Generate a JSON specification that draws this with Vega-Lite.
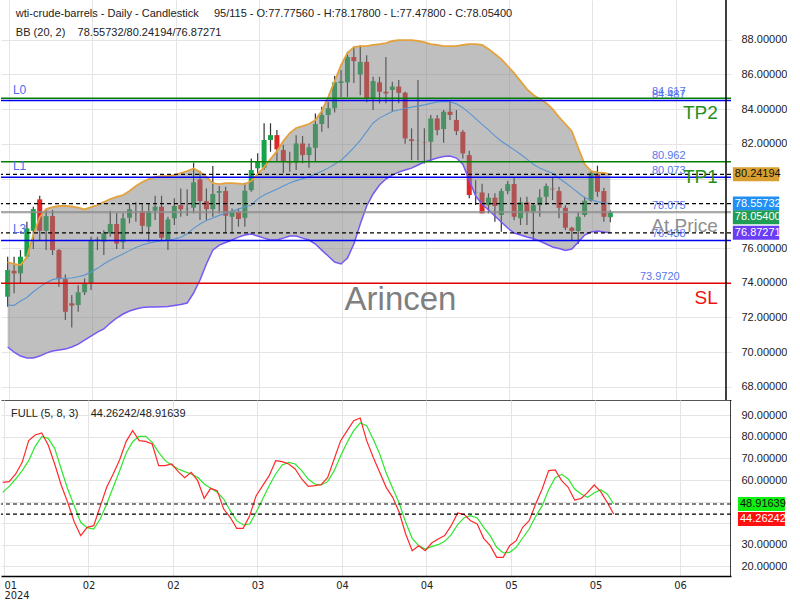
{
"$schema":"https://vega.github.io/schema/vega-lite/v6.json",
"padding":0,"spacing":0,"background":"#ffffff",
"config":{"view":{"stroke":null},"font":"Liberation Sans","axis":{"labelFont":"Liberation Sans","labelFontSize":11,"labelColor":"#222222","gridColor":"#e4e4e4","tickSize":0,"ticks":false}},
"datasets":{
"c":[
{"n":1,"o":73.19,"h":75.5,"l":72.62,"c":74.73,"u":75.19,"m":72.72,"b":70.30,"k":58.95,"d":54.32},
{"n":2,"o":74.69,"h":75.5,"l":73.39,"c":74.54,"u":75.08,"m":72.70,"b":70.01,"k":59.26,"d":57.10},
{"n":3,"o":74.54,"h":75.88,"l":73.97,"c":75.5,"u":75.02,"m":72.95,"b":69.78,"k":62.81,"d":60.49},
{"n":4,"o":75.5,"h":77.51,"l":75.4,"c":77.13,"u":75.48,"m":73.15,"b":69.67,"k":68.21,"d":64.35},
{"n":5,"o":76.99,"h":78.38,"l":75.95,"c":78.24,"u":76.75,"m":73.48,"b":69.67,"k":78.24,"d":68.98},
{"n":6,"o":78.8,"h":79.01,"l":76.46,"c":76.99,"u":77.78,"m":73.75,"b":69.78,"k":80.86,"d":75.62},
{"n":7,"o":76.99,"h":78.19,"l":75.88,"c":77.84,"u":78.24,"m":74.0,"b":69.95,"k":81.79,"d":80.09},
{"n":8,"o":77.84,"h":78.19,"l":75.6,"c":75.88,"u":78.36,"m":74.18,"b":70.07,"k":76.23,"d":79.32},
{"n":9,"o":75.88,"h":75.95,"l":73.77,"c":74.21,"u":78.42,"m":74.25,"b":70.13,"k":67.44,"d":74.69},
{"n":10,"o":74.21,"h":74.48,"l":71.85,"c":72.33,"u":78.42,"m":74.26,"b":70.18,"k":57.72,"d":65.12},
{"n":11,"o":72.82,"h":73.29,"l":71.43,"c":72.68,"u":78.39,"m":74.27,"b":70.30,"k":49.69,"d":55.86},
{"n":12,"o":72.72,"h":73.86,"l":72.33,"c":73.45,"u":78.33,"m":74.35,"b":70.47,"k":40.74,"d":48.15},
{"n":13,"o":73.45,"h":74.25,"l":73.29,"c":73.93,"u":78.22,"m":74.44,"b":70.70,"k":34.26,"d":40.43},
{"n":14,"o":73.97,"h":76.65,"l":73.58,"c":76.4,"u":78.36,"m":74.62,"b":70.93,"k":38.12,"d":37.96},
{"n":15,"o":76.4,"h":76.65,"l":75.88,"c":76.5,"u":78.47,"m":74.83,"b":71.16,"k":38.89,"d":37.34},
{"n":16,"o":76.36,"h":77.03,"l":75.6,"c":76.85,"u":78.65,"m":75.08,"b":71.34,"k":47.84,"d":41.97},
{"n":17,"o":76.85,"h":78.15,"l":76.65,"c":77.38,"u":78.82,"m":75.30,"b":71.68,"k":56.63,"d":48.92},
{"n":18,"o":77.38,"h":78.0,"l":75.95,"c":76.26,"u":78.94,"m":75.48,"b":71.97,"k":62.81,"d":56.63},
{"n":19,"o":76.33,"h":78.0,"l":75.95,"c":77.71,"u":79.05,"m":75.65,"b":72.20,"k":69.44,"d":64.35},
{"n":20,"o":77.74,"h":78.57,"l":77.42,"c":78.23,"u":79.28,"m":75.85,"b":72.37,"k":77.93,"d":72.53},
{"n":21,"o":78.12,"h":78.63,"l":77.51,"c":78.10,"u":79.57,"m":76.03,"b":72.49,"k":82.87,"d":77.78},
{"n":22,"o":78.12,"h":78.57,"l":76.85,"c":77.28,"u":79.80,"m":76.17,"b":72.57,"k":78.24,"d":80.25},
{"n":23,"o":77.23,"h":78.57,"l":76.36,"c":78.12,"u":79.97,"m":76.28,"b":72.60,"k":77.93,"d":80.25},
{"n":24,"o":78.15,"h":79.01,"l":77.61,"c":78.38,"u":80.09,"m":76.37,"b":72.60,"k":76.70,"d":77.47},
{"n":25,"o":78.38,"h":79.01,"l":76.46,"c":76.59,"u":80.14,"m":76.41,"b":72.62,"k":66.67,"d":72.84},
{"n":26,"o":76.46,"h":77.8,"l":75.88,"c":77.65,"u":80.14,"m":76.44,"b":72.63,"k":66.67,"d":68.98},
{"n":27,"o":77.71,"h":78.86,"l":77.32,"c":78.42,"u":80.20,"m":76.52,"b":72.69,"k":67.44,"d":66.97},
{"n":28,"o":78.47,"h":79.43,"l":77.8,"c":78.23,"u":80.32,"m":76.62,"b":72.75,"k":63.89,"d":65.12},
{"n":29,"o":78.24,"h":79.38,"l":77.84,"c":78.26,"u":80.43,"m":76.82,"b":72.83,"k":61.11,"d":63.89},
{"n":30,"o":78.32,"h":80.91,"l":78.0,"c":79.78,"u":80.58,"m":77.13,"b":73.41,"k":63.58,"d":62.81},
{"n":31,"o":79.95,"h":80.45,"l":77.61,"c":78.7,"u":80.37,"m":77.38,"b":74.16,"k":59.72,"d":61.26},
{"n":32,"o":78.7,"h":79.43,"l":77.61,"c":78.24,"u":80.09,"m":77.58,"b":75.08,"k":51.54,"d":58.18},
{"n":33,"o":78.24,"h":80.72,"l":77.8,"c":79.11,"u":79.74,"m":77.73,"b":75.88,"k":56.17,"d":56.17},
{"n":34,"o":79.18,"h":79.57,"l":78.0,"c":79.28,"u":79.68,"m":77.88,"b":76.17,"k":55.09,"d":54.32},
{"n":35,"o":79.28,"h":79.53,"l":76.88,"c":77.86,"u":79.74,"m":78.0,"b":76.32,"k":46.60,"d":51.23},
{"n":36,"o":77.8,"h":78.28,"l":76.88,"c":78.09,"u":79.74,"m":78.12,"b":76.46,"k":42.75,"d":45.83},
{"n":37,"o":78.09,"h":78.28,"l":77.23,"c":77.67,"u":79.71,"m":78.24,"b":76.63,"k":37.65,"d":41.20},
{"n":38,"o":77.74,"h":79.76,"l":77.23,"c":79.3,"u":79.68,"m":78.38,"b":76.75,"k":37.65,"d":39.20},
{"n":39,"o":79.33,"h":81.16,"l":79.24,"c":80.49,"u":79.86,"m":78.46,"b":76.80,"k":43.52,"d":39.66},
{"n":40,"o":80.59,"h":81.45,"l":80.2,"c":80.97,"u":80.26,"m":78.83,"b":76.69,"k":52.78,"d":45.06},
{"n":41,"o":80.62,"h":83.18,"l":80.5,"c":82.22,"u":80.66,"m":79.05,"b":76.57,"k":57.41,"d":51.23},
{"n":42,"o":82.22,"h":83.18,"l":81.54,"c":82.5,"u":81.12,"m":79.22,"b":76.46,"k":62.04,"d":57.41},
{"n":43,"o":82.5,"h":82.79,"l":80.97,"c":81.68,"u":81.58,"m":79.39,"b":76.46,"k":68.98,"d":62.81},
{"n":44,"o":81.64,"h":81.93,"l":80.3,"c":80.97,"u":82.16,"m":79.57,"b":76.57,"k":68.52,"d":66.97},
{"n":45,"o":80.91,"h":81.54,"l":80.39,"c":80.88,"u":82.62,"m":79.75,"b":76.69,"k":67.44,"d":68.21},
{"n":46,"o":80.91,"h":82.5,"l":80.49,"c":82.02,"u":82.91,"m":79.88,"b":76.69,"k":65.12,"d":67.44},
{"n":47,"o":82.02,"h":82.45,"l":80.88,"c":81.35,"u":83.02,"m":79.98,"b":76.57,"k":60.49,"d":64.35},
{"n":48,"o":81.35,"h":82.02,"l":80.62,"c":81.8,"u":83.14,"m":80.10,"b":76.46,"k":57.10,"d":60.49},
{"n":49,"o":81.77,"h":83.75,"l":80.97,"c":83.14,"u":83.37,"m":80.26,"b":76.23,"k":57.41,"d":58.18},
{"n":50,"o":83.14,"h":84.13,"l":82.69,"c":83.66,"u":83.89,"m":80.42,"b":75.88,"k":57.87,"d":57.72},
{"n":51,"o":83.66,"h":84.4,"l":82.9,"c":84.05,"u":84.69,"m":80.60,"b":75.54,"k":61.26,"d":59.26},
{"n":52,"o":84.05,"h":85.9,"l":83.8,"c":85.54,"u":85.61,"m":80.82,"b":75.19,"k":69.75,"d":64.35},
{"n":53,"o":85.5,"h":86.25,"l":84.7,"c":85.6,"u":86.53,"m":81.05,"b":75.08,"k":78.24,"d":71.30},
{"n":54,"o":85.54,"h":87.3,"l":84.7,"c":87.0,"u":87.23,"m":81.40,"b":75.42,"k":82.87,"d":77.47},
{"n":55,"o":87.0,"h":87.6,"l":85.5,"c":86.76,"u":87.57,"m":81.78,"b":76.23,"k":87.50,"d":82.87},
{"n":56,"o":85.99,"h":87.68,"l":84.8,"c":86.72,"u":87.63,"m":82.20,"b":77.38,"k":88.73,"d":86.42},
{"n":57,"o":86.72,"h":87.1,"l":84.4,"c":84.62,"u":87.63,"m":82.70,"b":78.42,"k":78.24,"d":85.18},
{"n":58,"o":84.62,"h":85.86,"l":83.94,"c":85.61,"u":87.69,"m":83.20,"b":79.11,"k":70.52,"d":79.01},
{"n":59,"o":85.54,"h":85.86,"l":84.33,"c":85.0,"u":87.74,"m":83.48,"b":79.63,"k":63.58,"d":72.07},
{"n":60,"o":85.0,"h":87.0,"l":84.33,"c":84.9,"u":87.80,"m":83.68,"b":79.97,"k":56.63,"d":63.27},
{"n":61,"o":85.1,"h":85.57,"l":83.85,"c":85.3,"u":87.92,"m":83.86,"b":80.20,"k":52.01,"d":56.17},
{"n":62,"o":85.3,"h":85.67,"l":84.33,"c":84.94,"u":87.97,"m":83.95,"b":80.37,"k":45.06,"d":49.38},
{"n":63,"o":84.94,"h":85.0,"l":82.0,"c":82.31,"u":87.97,"m":84.03,"b":80.49,"k":35.03,"d":40.43},
{"n":64,"o":82.26,"h":82.89,"l":81.06,"c":82.16,"u":87.97,"m":84.11,"b":80.60,"k":27.31,"d":33.02},
{"n":65,"o":82.16,"h":85.67,"l":81.06,"c":82.18,"u":87.92,"m":84.17,"b":80.78,"k":29.63,"d":29.63},
{"n":66,"o":82.1,"h":82.89,"l":80.87,"c":82.08,"u":87.86,"m":84.24,"b":80.95,"k":27.31,"d":28.09},
{"n":67,"o":82.12,"h":83.66,"l":80.97,"c":83.46,"u":87.74,"m":84.33,"b":81.07,"k":30.86,"d":29.17},
{"n":68,"o":83.46,"h":83.66,"l":82.5,"c":82.79,"u":87.69,"m":84.41,"b":81.18,"k":32.72,"d":30.09},
{"n":69,"o":82.85,"h":83.94,"l":82.06,"c":83.85,"u":87.63,"m":84.43,"b":81.27,"k":34.26,"d":31.63},
{"n":70,"o":83.85,"h":84.48,"l":83.37,"c":83.66,"u":87.63,"m":84.42,"b":81.30,"k":38.89,"d":34.72},
{"n":71,"o":83.37,"h":83.94,"l":82.5,"c":82.73,"u":87.63,"m":84.30,"b":81.18,"k":44.75,"d":39.35},
{"n":72,"o":82.69,"h":82.79,"l":81.16,"c":81.45,"u":87.69,"m":84.08,"b":80.83,"k":43.98,"d":42.59},
{"n":73,"o":81.35,"h":81.6,"l":78.86,"c":79.05,"u":87.74,"m":83.78,"b":79.91,"k":41.20,"d":43.52},
{"n":74,"o":79.18,"h":79.9,"l":78.47,"c":79.2,"u":87.74,"m":83.45,"b":78.99,"k":39.66,"d":42.44},
{"n":75,"o":79.2,"h":79.7,"l":78.0,"c":78.0,"u":87.69,"m":83.12,"b":78.53,"k":33.02,"d":38.12},
{"n":76,"o":78.47,"h":79.15,"l":78.0,"c":78.9,"u":87.46,"m":82.80,"b":78.19,"k":29.63,"d":34.26},
{"n":77,"o":78.9,"h":79.15,"l":77.51,"c":78.42,"u":87.17,"m":82.46,"b":77.84,"k":24.23,"d":28.86},
{"n":78,"o":77.9,"h":79.43,"l":76.94,"c":79.28,"u":86.88,"m":82.15,"b":77.50,"k":24.23,"d":26.23},
{"n":79,"o":79.28,"h":79.86,"l":79.1,"c":79.68,"u":86.48,"m":81.90,"b":77.15,"k":29.63,"d":26.54},
{"n":80,"o":79.68,"h":80.05,"l":77.6,"c":77.8,"u":86.07,"m":81.65,"b":76.86,"k":31.94,"d":28.86},
{"n":81,"o":77.71,"h":78.92,"l":77.32,"c":78.63,"u":85.61,"m":81.40,"b":76.75,"k":38.12,"d":33.18},
{"n":82,"o":78.63,"h":78.95,"l":77.32,"c":78.09,"u":85.15,"m":81.12,"b":76.63,"k":41.20,"d":37.34},
{"n":83,"o":78.09,"h":78.53,"l":76.46,"c":78.47,"u":84.81,"m":80.82,"b":76.55,"k":48.92,"d":43.21},
{"n":84,"o":78.47,"h":79.38,"l":77.8,"c":78.92,"u":84.58,"m":80.60,"b":76.40,"k":55.86,"d":48.15},
{"n":85,"o":78.95,"h":79.72,"l":78.47,"c":79.57,"u":84.35,"m":80.45,"b":76.23,"k":64.35,"d":55.55},
{"n":86,"o":79.42,"h":80.1,"l":78.76,"c":79.38,"u":84.00,"m":80.30,"b":76.06,"k":64.66,"d":61.11},
{"n":87,"o":79.28,"h":79.53,"l":77.71,"c":78.32,"u":83.54,"m":80.02,"b":75.97,"k":59.72,"d":62.65},
{"n":88,"o":78.32,"h":78.47,"l":77.03,"c":77.17,"u":83.14,"m":79.76,"b":75.86,"k":56.63,"d":60.49},
{"n":89,"o":77.17,"h":77.23,"l":76.46,"c":76.98,"u":82.73,"m":79.48,"b":75.94,"k":50.77,"d":55.86},
{"n":90,"o":76.98,"h":78.03,"l":76.23,"c":77.8,"u":81.76,"m":79.18,"b":76.34,"k":51.54,"d":53.55},
{"n":91,"o":77.9,"h":78.95,"l":77.8,"c":78.72,"u":80.83,"m":78.90,"b":76.75,"k":54.32,"d":52.01},
{"n":92,"o":78.72,"h":80.45,"l":78.66,"c":80.33,"u":80.43,"m":78.76,"b":76.92,"k":57.72,"d":54.01},
{"n":93,"o":80.24,"h":80.74,"l":78.95,"c":79.24,"u":80.35,"m":78.67,"b":76.98,"k":54.63,"d":55.55},
{"n":94,"o":79.28,"h":79.47,"l":77.51,"c":77.8,"u":80.32,"m":78.60,"b":76.92,"k":49.69,"d":53.55},
{"n":95,"o":77.7756,"h":78.178,"l":77.478,"c":78.054,"u":80.24194,"m":78.55732,"b":76.87271,"k":44.26242,"d":48.91639}
],
"levels":[
{"name":"TP2","kind":"tp","price":84.617,"label":"84.617"},
{"name":"L0","kind":"lv","price":84.487,"label":"84.487"},
{"name":"TP1","kind":"tp","price":80.962,"label":"80.962"},
{"name":"L1","kind":"lv","price":80.073,"label":"80.073"},
{"name":"At Price","kind":"at","price":78.075,"label":"78.075"},
{"name":"L3","kind":"lv","price":76.438,"label":"76.438"},
{"name":"SL","kind":"sl","price":73.972,"label":"73.9720"}
],
"tags":[
{"name":"upper","value":80.24194,"label":"80.24194"},
{"name":"mid","value":78.55732,"label":"78.55732"},
{"name":"close","value":78.054,"label":"78.05400"},
{"name":"lower","value":76.87271,"label":"76.87271"}
],
"stags":[
{"name":"d","value":48.91639,"label":"48.91639"},
{"name":"k","value":44.26242,"label":"44.26242"}
],
"edge":[{"n":113.05}]
},
"vconcat":[
{"width":730,"height":400,
"layer":[
{"data":{"name":"c"},"mark":{"type":"rule","color":"#333333","strokeWidth":1.2,"clip":true},
"encoding":{
"x":{"field":"n","type":"quantitative","title":null,"scale":{"domain":[0.74,113.05],"nice":false,"zero":false},"axis":{"values":[1.2,14.2,27.2,40.2,53.2,66.2,79.2,92.2,105.2],"tickCount":30,"labels":false,"ticks":false,"domain":true,"domainColor":"#555555","grid":true,"gridColor":"#e4e4e4"}},
"y":{"field":"l","type":"quantitative","title":null,"scale":{"domain":[67.25,90.28],"nice":false,"zero":false},"axis":{"orient":"right","values":[68,70,72,74,76,78,80,82,84,86,88],"tickCount":40,"labelExpr":"(datum.value==78||datum.value==80)?'':format(datum.value,'.5f')","labelOverlap":false,"grid":true,"gridColor":"#e4e4e4","ticks":false,"tickSize":0,"domain":false,"labelPadding":10}},
"y2":{"field":"h"}}},
{"data":{"name":"c"},"mark":{"type":"bar","size":5,"clip":true},
"encoding":{
"x":{"field":"n","type":"quantitative","title":null,"scale":{"domain":[0.74,113.05],"nice":false,"zero":false}},
"y":{"field":"o","type":"quantitative","title":null,"scale":{"domain":[67.25,90.28],"nice":false,"zero":false}},
"y2":{"field":"c"},
"color":{"condition":{"test":"datum.c >= datum.o","value":"#18a34a"},"value":"#e02626"}}},
{"data":{"name":"c"},"mark":{"type":"area","color":"#808080","opacity":0.5,"clip":true},
"encoding":{
"x":{"field":"n","type":"quantitative","title":null,"scale":{"domain":[0.74,113.05],"nice":false,"zero":false}},
"y":{"field":"u","type":"quantitative","title":null,"scale":{"domain":[67.25,90.28],"nice":false,"zero":false}},
"y2":{"field":"b"}}},
{"data":{"name":"c"},"mark":{"type":"line","color":"#e3a23e","strokeWidth":1.8,"clip":true},
"encoding":{
"x":{"field":"n","type":"quantitative","title":null,"scale":{"domain":[0.74,113.05],"nice":false,"zero":false}},
"y":{"field":"u","type":"quantitative","title":null,"scale":{"domain":[67.25,90.28],"nice":false,"zero":false}}}},
{"data":{"name":"c"},"mark":{"type":"line","color":"#5b95d0","strokeWidth":1.1,"clip":true},
"encoding":{
"x":{"field":"n","type":"quantitative","title":null,"scale":{"domain":[0.74,113.05],"nice":false,"zero":false}},
"y":{"field":"m","type":"quantitative","title":null,"scale":{"domain":[67.25,90.28],"nice":false,"zero":false}}}},
{"data":{"name":"c"},"mark":{"type":"line","color":"#7857f5","strokeWidth":1.5,"clip":true},
"encoding":{
"x":{"field":"n","type":"quantitative","title":null,"scale":{"domain":[0.74,113.05],"nice":false,"zero":false}},
"y":{"field":"b","type":"quantitative","title":null,"scale":{"domain":[67.25,90.28],"nice":false,"zero":false}}}},
{"data":{"name":"levels"},"mark":{"type":"rule","strokeWidth":1.5},
"encoding":{
"y":{"field":"price","type":"quantitative","title":null,"scale":{"domain":[67.25,90.28],"nice":false,"zero":false}},
"color":{"field":"kind","type":"nominal","legend":null,"scale":{"domain":["tp","lv","sl","at"],"range":["#008000","#0000ee","#e00000","#8c8c8c"]}}}},
{"data":{"name":"tags"},"transform":[{"filter":"datum.name != 'close'"}],"mark":{"type":"rule","color":"#000000","strokeWidth":1.2,"strokeDash":[4,3]},
"encoding":{
"y":{"field":"value","type":"quantitative","title":null,"scale":{"domain":[67.25,90.28],"nice":false,"zero":false}}}},
{"data":{"name":"edge"},"mark":{"type":"rule","color":"#000000","strokeWidth":1.5,"clip":true},
"encoding":{
"x":{"field":"n","type":"quantitative","title":null,"scale":{"domain":[0.74,113.05],"nice":false,"zero":false}}}},
{"data":{"name":"levels"},"transform":[{"filter":"datum.kind == 'lv'"}],"mark":{"type":"text","align":"left","baseline":"alphabetic","dy":-7,"fontSize":12,"color":"#4a6cf0"},
"encoding":{
"x":{"datum":1.82,"type":"quantitative","scale":{"domain":[0.74,113.05],"nice":false,"zero":false}},
"y":{"field":"price","type":"quantitative","title":null,"scale":{"domain":[67.25,90.28],"nice":false,"zero":false}},
"text":{"field":"name"}}},
{"data":{"name":"levels"},"transform":[{"filter":"datum.kind != 'sl'"}],"mark":{"type":"text","align":"right","baseline":"alphabetic","dy":-3,"fontSize":11,"color":"#5577ee"},
"encoding":{
"x":{"datum":106.74,"type":"quantitative","scale":{"domain":[0.74,113.05],"nice":false,"zero":false}},
"y":{"field":"price","type":"quantitative","title":null,"scale":{"domain":[67.25,90.28],"nice":false,"zero":false}},
"text":{"field":"label"}}},
{"data":{"name":"levels"},"transform":[{"filter":"datum.kind == 'sl'"}],"mark":{"type":"text","align":"right","baseline":"alphabetic","dy":-3,"fontSize":11,"color":"#5577ee"},
"encoding":{
"x":{"datum":105.82,"type":"quantitative","scale":{"domain":[0.74,113.05],"nice":false,"zero":false}},
"y":{"field":"price","type":"quantitative","title":null,"scale":{"domain":[67.25,90.28],"nice":false,"zero":false}},
"text":{"field":"label"}}},
{"data":{"name":"levels"},"transform":[{"filter":"datum.kind == 'tp'"}],"mark":{"type":"text","align":"right","baseline":"alphabetic","dy":21,"fontSize":19,"color":"#1f8f1f"},
"encoding":{
"x":{"datum":111.77,"type":"quantitative","scale":{"domain":[0.74,113.05],"nice":false,"zero":false}},
"y":{"field":"price","type":"quantitative","title":null,"scale":{"domain":[67.25,90.28],"nice":false,"zero":false}},
"text":{"field":"name"}}},
{"data":{"name":"levels"},"transform":[{"filter":"datum.kind == 'sl'"}],"mark":{"type":"text","align":"right","baseline":"alphabetic","dy":21,"fontSize":19,"color":"#ee1111"},
"encoding":{
"x":{"datum":111.77,"type":"quantitative","scale":{"domain":[0.74,113.05],"nice":false,"zero":false}},
"y":{"field":"price","type":"quantitative","title":null,"scale":{"domain":[67.25,90.28],"nice":false,"zero":false}},
"text":{"field":"name"}}},
{"data":{"name":"levels"},"transform":[{"filter":"datum.kind == 'at'"}],"mark":{"type":"text","align":"right","baseline":"alphabetic","dy":20,"fontSize":19,"color":"#8f8f8f"},
"encoding":{
"x":{"datum":111.77,"type":"quantitative","scale":{"domain":[0.74,113.05],"nice":false,"zero":false}},
"y":{"field":"price","type":"quantitative","title":null,"scale":{"domain":[67.25,90.28],"nice":false,"zero":false}},
"text":{"field":"name"}}},
{"data":{"values":[{"t":"Arincen"}]},"mark":{"type":"text","align":"center","baseline":"alphabetic","fontSize":33,"color":"#7f7f7f"},
"encoding":{
"x":{"datum":62.28,"type":"quantitative","scale":{"domain":[0.74,113.05],"nice":false,"zero":false}},
"y":{"datum":72.43,"type":"quantitative","scale":{"domain":[67.25,90.28],"nice":false,"zero":false}},
"text":{"field":"t"}}},
{"data":{"values":[{"t":"wti-crude-barrels - Daily - Candlestick\u00a0\u00a0\u00a0\u00a0 95/115 - O:77.77560 - H:78.17800 - L:77.47800 - C:78.05400","p":89.47},{"t":"BB (20, 2)\u00a0\u00a0\u00a0 78.55732/80.24194/76.87271","p":88.38}]},"mark":{"type":"text","align":"left","baseline":"middle","fontSize":11,"color":"#222222"},
"encoding":{
"x":{"datum":2.28,"type":"quantitative","scale":{"domain":[0.74,113.05],"nice":false,"zero":false}},
"y":{"field":"p","type":"quantitative","title":null,"scale":{"domain":[67.25,90.28],"nice":false,"zero":false}},
"text":{"field":"t"}}},
{"data":{"name":"tags"},"transform":[{"filter":"datum.name != 'close'"}],"mark":{"type":"rect","yOffset":-7,"y2Offset":7},
"encoding":{
"x":{"datum":114.12,"type":"quantitative","scale":{"domain":[0.74,113.05],"nice":false,"zero":false}},
"x2":{"datum":121.35},
"y":{"field":"value","type":"quantitative","title":null,"scale":{"domain":[67.25,90.28],"nice":false,"zero":false}},
"y2":{"field":"value"},
"fill":{"field":"name","type":"nominal","legend":null,"scale":{"domain":["upper","mid","close","lower"],"range":["#d9a031","#2090f5","#1f9d55","#6a3cf5"]}}}},
{"data":{"name":"tags"},"transform":[{"filter":"datum.name == 'close'"}],"mark":{"type":"rect","yOffset":-2,"y2Offset":12},
"encoding":{
"x":{"datum":114.12,"type":"quantitative","scale":{"domain":[0.74,113.05],"nice":false,"zero":false}},
"x2":{"datum":121.35},
"y":{"field":"value","type":"quantitative","title":null,"scale":{"domain":[67.25,90.28],"nice":false,"zero":false}},
"y2":{"field":"value"},
"fill":{"field":"name","type":"nominal","legend":null,"scale":{"domain":["upper","mid","close","lower"],"range":["#d9a031","#2090f5","#1f9d55","#6a3cf5"]}}}},
{"data":{"name":"tags"},"transform":[{"filter":"datum.name != 'close'"}],"mark":{"type":"text","align":"left","baseline":"middle","fontSize":11},
"encoding":{
"x":{"datum":114.43,"type":"quantitative","scale":{"domain":[0.74,113.05],"nice":false,"zero":false}},
"y":{"field":"value","type":"quantitative","title":null,"scale":{"domain":[67.25,90.28],"nice":false,"zero":false}},
"text":{"field":"label"},
"color":{"condition":{"test":"datum.name == 'upper'","value":"#111111"},"value":"#ffffff"}}},
{"data":{"name":"tags"},"transform":[{"filter":"datum.name == 'close'"}],"mark":{"type":"text","align":"left","baseline":"middle","fontSize":11,"dy":5,"color":"#ffffff"},
"encoding":{
"x":{"datum":114.43,"type":"quantitative","scale":{"domain":[0.74,113.05],"nice":false,"zero":false}},
"y":{"field":"value","type":"quantitative","title":null,"scale":{"domain":[67.25,90.28],"nice":false,"zero":false}},
"text":{"field":"label"}}}
]},
{"width":730,"height":176,
"layer":[
{"data":{"name":"c"},"mark":{"type":"line","color":"#2ee62e","strokeWidth":1.2,"clip":true},
"encoding":{
"x":{"field":"n","type":"quantitative","title":null,"scale":{"domain":[0.74,113.05],"nice":false,"zero":false},"axis":{"values":[1.2,14.2,27.2,40.2,53.2,66.2,79.2,92.2,105.2],"tickCount":30,"labelExpr":"datum.value < 5 ? ['01','2024'] : datum.value < 35 ? '02' : datum.value < 45 ? '03' : datum.value < 70 ? '04' : datum.value < 100 ? '05' : '06'","grid":true,"gridColor":"#e4e4e4","ticks":false,"tickSize":0,"domain":true,"domainColor":"#000000","domainWidth":1.5,"labelFlush":5,"labelPadding":3,"labelBaseline":"top","labelLineHeight":10,"labelFont":"Liberation Sans Narrow, DejaVu Sans Condensed, Liberation Sans","labelFontSize":11}},
"y":{"field":"d","type":"quantitative","title":null,"scale":{"domain":[15.58,97.07],"nice":false,"zero":false},"axis":{"orient":"right","values":[20,30,40,50,60,70,80,90],"tickCount":40,"labelExpr":"(datum.value==40||datum.value==50)?'':format(datum.value,'.5f')","labelOverlap":false,"grid":true,"gridColor":"#e4e4e4","ticks":false,"tickSize":0,"domain":false,"labelPadding":10}}}},
{"data":{"name":"c"},"mark":{"type":"line","color":"#ff2a2a","strokeWidth":1.2,"clip":true},
"encoding":{
"x":{"field":"n","type":"quantitative","title":null,"scale":{"domain":[0.74,113.05],"nice":false,"zero":false}},
"y":{"field":"k","type":"quantitative","title":null,"scale":{"domain":[15.58,97.07],"nice":false,"zero":false}}}},
{"data":{"name":"stags"},"mark":{"type":"rule","color":"#000000","strokeWidth":1.2,"strokeDash":[4,3]},
"encoding":{
"y":{"field":"value","type":"quantitative","title":null,"scale":{"domain":[15.58,97.07],"nice":false,"zero":false}}}},
{"data":{"name":"edge"},"mark":{"type":"rule","color":"#000000","strokeWidth":1.5,"clip":true},
"encoding":{
"x":{"field":"n","type":"quantitative","title":null,"scale":{"domain":[0.74,113.05],"nice":false,"zero":false}}}},
{"data":{"values":[{"t":"FULL (5, 8, 3)\u00a0\u00a0\u00a0 44.26242/48.91639","p":90.58}]},"mark":{"type":"text","align":"left","baseline":"middle","fontSize":11,"color":"#222222"},
"encoding":{
"x":{"datum":2.28,"type":"quantitative","scale":{"domain":[0.74,113.05],"nice":false,"zero":false}},
"y":{"field":"p","type":"quantitative","title":null,"scale":{"domain":[15.58,97.07],"nice":false,"zero":false}},
"text":{"field":"t"}}},
{"data":{"name":"stags"},"transform":[{"filter":"datum.name == 'd'"}],"mark":{"type":"rect","yOffset":-7,"y2Offset":7,"color":"#11ee11"},
"encoding":{
"x":{"datum":114.12,"type":"quantitative","scale":{"domain":[0.74,113.05],"nice":false,"zero":false}},
"x2":{"datum":121.35},
"y":{"field":"value","type":"quantitative","title":null,"scale":{"domain":[15.58,97.07],"nice":false,"zero":false}},
"y2":{"field":"value"}}},
{"data":{"name":"stags"},"transform":[{"filter":"datum.name == 'k'"}],"mark":{"type":"rect","yOffset":-2,"y2Offset":12,"color":"#ff1010"},
"encoding":{
"x":{"datum":114.12,"type":"quantitative","scale":{"domain":[0.74,113.05],"nice":false,"zero":false}},
"x2":{"datum":121.35},
"y":{"field":"value","type":"quantitative","title":null,"scale":{"domain":[15.58,97.07],"nice":false,"zero":false}},
"y2":{"field":"value"}}},
{"data":{"name":"stags"},"transform":[{"filter":"datum.name == 'd'"}],"mark":{"type":"text","align":"left","baseline":"middle","fontSize":11,"color":"#111111"},
"encoding":{
"x":{"datum":114.43,"type":"quantitative","scale":{"domain":[0.74,113.05],"nice":false,"zero":false}},
"y":{"field":"value","type":"quantitative","title":null,"scale":{"domain":[15.58,97.07],"nice":false,"zero":false}},
"text":{"field":"label"}}},
{"data":{"name":"stags"},"transform":[{"filter":"datum.name == 'k'"}],"mark":{"type":"text","align":"left","baseline":"middle","fontSize":11,"dy":5,"color":"#ffffff"},
"encoding":{
"x":{"datum":114.43,"type":"quantitative","scale":{"domain":[0.74,113.05],"nice":false,"zero":false}},
"y":{"field":"value","type":"quantitative","title":null,"scale":{"domain":[15.58,97.07],"nice":false,"zero":false}},
"text":{"field":"label"}}}
]}
]
}
